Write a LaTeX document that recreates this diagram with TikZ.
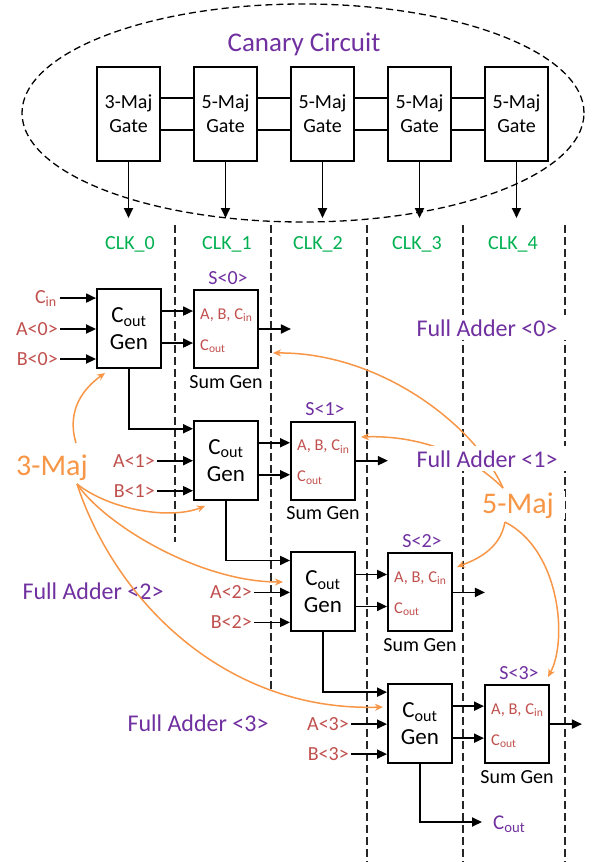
\documentclass[tikz,border=0pt]{standalone}
\usepackage{fontspec}
\setmainfont{Carlito}
\usetikzlibrary{arrows.meta}
\definecolor{cred}{HTML}{C0504D}
\definecolor{cpurple}{HTML}{7030A0}
\definecolor{cgreen}{HTML}{00B050}
\definecolor{corange}{HTML}{F79646}
\newcommand\myfs[1]{\fontsize{#1}{#1}\selectfont}
\begin{document}
\begin{tikzpicture}[x=1pt,y=-1pt,
  box/.style={draw, line width=1.9pt, inner sep=0pt},
  wire/.style={line width=1.8pt},
  arr/.style={line width=1.8pt, -{Triangle[length=10pt,width=9pt]}},
  oarr/.style={draw=corange, line width=1.5pt, -{Stealth[length=8pt,width=7pt]}},
  clkline/.style={line width=1.3pt, dash pattern=on 8pt off 4pt, black!85},
  gatebox/.style={box, minimum width=63pt, minimum height=94pt, align=center, font={\fontsize{20}{24}\selectfont}},
  coutbox/.style={box, minimum width=64pt, minimum height=79pt, align=center, font={\fontsize{23}{27}\selectfont}},
  sumbox/.style={box, minimum width=64pt, minimum height=78pt},
  inlbl/.style={text=cred, anchor=east, inner sep=0pt, font=\myfs{20}},
  sumtxt/.style={text=cred, anchor=base west, inner sep=0pt, font=\myfs{16.5}},
  slbl/.style={text=cpurple, anchor=base, inner sep=0pt, font=\myfs{20}},
  blk/.style={anchor=base, inner sep=0pt, font=\myfs{20}},
  clklbl/.style={text=cgreen, anchor=base, inner sep=0pt, font=\myfs{20}},
  falbl/.style={text=cpurple, anchor=base, font=\myfs{24}, fill=white, inner xsep=9pt, inner ysep=4pt},
  majlbl/.style={text=corange, anchor=base, font=\myfs{30}, fill=white, inner xsep=11pt, inner ysep=1pt}
]
\useasboundingbox (0,0) rectangle (600,862);

% clock boundaries
\draw[clkline] (175,225) -- (175,542);
\draw[clkline] (271,225) -- (271,692);
\draw[clkline] (367,225) -- (367,862);
\draw[clkline] (463,225) -- (463,862);
\draw[clkline] (565,225) -- (565,862);

% canary circuit
\draw[line width=1.3pt, dash pattern=on 7pt off 4pt] (303,113) ellipse [x radius=281pt, y radius=109pt];
\node[text=cpurple, anchor=base, font=\myfs{27}] (title) at (304,51) {Canary Circuit};
\coordinate (ybot) at (0,218);
\foreach \k/\t in {0/3,1/5,2/5,3/5,4/5} {
  \node[gatebox] (g\k) at (128.5+97*\k,114) {\t-Maj\\Gate};
  \draw[arr] (g\k.south) -- (g\k.south |- ybot);
}
\foreach \k [evaluate=\k as \n using int(\k+1)] in {0,1,2,3} {
  \draw[wire] ([yshift=16pt]g\k.east) -- ([yshift=16pt]g\n.west);
  \draw[wire] ([yshift=-16pt]g\k.east) -- ([yshift=-16pt]g\n.west);
}
\foreach \k/\x in {0/130,1/227,2/318,3/417,4/513} {
  \node[clklbl] (clk\k) at (\x,249) {CLK\_\k};
}

% full adders
\foreach \i in {0,1,2,3} {
  \pgfmathsetmacro\xo{97+97*\i}
  \pgfmathsetmacro\yo{289+131.7*\i}
  \node[coutbox] (cg\i) at (\xo+32,\yo+39.5) {C\textsubscript{out}\\Gen};
  \node[sumbox] (sg\i) at (\xo+129,\yo+40) {};
  \node[inlbl] (a\i) at (\xo-39,\yo+40) {A<\i>};
  \node[inlbl] (b\i) at (\xo-39,\yo+70) {B<\i>};
  \draw[arr] ([xshift=2pt]a\i.east) -- (a\i.east -| cg\i.west);
  \draw[arr] ([xshift=2pt]b\i.east) -- (b\i.east -| cg\i.west);
  \draw[arr] ([yshift=-23pt]cg\i.north east) -- ([yshift=-23pt]cg\i.north east -| sg\i.west);
  \draw[arr] ([yshift=-55pt]cg\i.north east) -- ([yshift=-55pt]cg\i.north east -| sg\i.west);
  \draw[arr] (sg\i.east) -- ++(32,0);
  \node[sumtxt] (sa\i) at (\xo+103,\yo+30) {A, B, C\textsubscript{in}};
  \node[sumtxt] (sc\i) at (\xo+103,\yo+61) {C\textsubscript{out}};
  \node[slbl] (s\i) at (\xo+131,\yo-5) {S<\i>};
  \node[blk] (sgl\i) at (\xo+129,\yo+99) {Sum Gen};
}
\node[text=cred, anchor=base east, inner sep=0pt, font=\myfs{20}] (cin) at (57,303) {C\textsubscript{in}};
\draw[arr] (60,298) -- (cin.east -| cg0.west);
\foreach \i [evaluate=\i as \n using int(\i+1)] in {0,1,2} {
  \draw[arr] (cg\i.south) |- ([yshift=-9pt]cg\n.north west);
}
\coordinate (cofree) at (482,822);
\draw[arr] (cg3.south) |- (cofree);
\node[text=cpurple, anchor=base west, inner sep=0pt, font=\myfs{21}] (coutl) at (493,829) {C\textsubscript{out}};

% labels under curves
\node[falbl, fill=none] (fa2) at (93,599) {Full Adder <2>};
\node[falbl, fill=none] (fa3) at (198,731) {Full Adder <3>};

% majority gate hints
\coordinate (m3a) at (76,443);
\coordinate (m3b) at (77,484);
\coordinate (o0) at (105,373);
\coordinate (o1) at (205,506);
\coordinate (o2) at (283,582);
\coordinate (o3) at (383,707);
\draw[oarr] (m3a) .. controls (66,410) and (84,388) .. (o0);
\draw[oarr] (m3b) .. controls (110,510) and (170,520) .. (o1);
\draw[oarr] (m3b) .. controls (105,525) and (200,582) .. (o2);
\draw[oarr] (m3b) .. controls (115,600) and (225,712) .. (o3);

\coordinate (m5a) at (503,488);
\coordinate (m5b) at (505,522);
\coordinate (p0) at (273,353);
\coordinate (p1) at (361,437);
\coordinate (p2) at (457,567);
\coordinate (p3) at (548,677);
\draw[oarr] (m5a) .. controls (475,425) and (380,352) .. (p0);
\draw[oarr] (m5a) .. controls (470,455) and (420,435) .. (p1);
\draw[oarr] (m5b) .. controls (500,550) and (475,560) .. (p2);
\draw[oarr] (m5b) .. controls (560,550) and (568,640) .. (p3);

\node[falbl] (fa0) at (487,336) {Full Adder <0>};
\node[falbl] (fa1) at (487,467) {Full Adder <1>};
\node[majlbl, fill=none] (maj3) at (52,475) {3-Maj};
\node[majlbl] (maj5) at (518,513) {5-Maj};
\end{tikzpicture}
\end{document}
